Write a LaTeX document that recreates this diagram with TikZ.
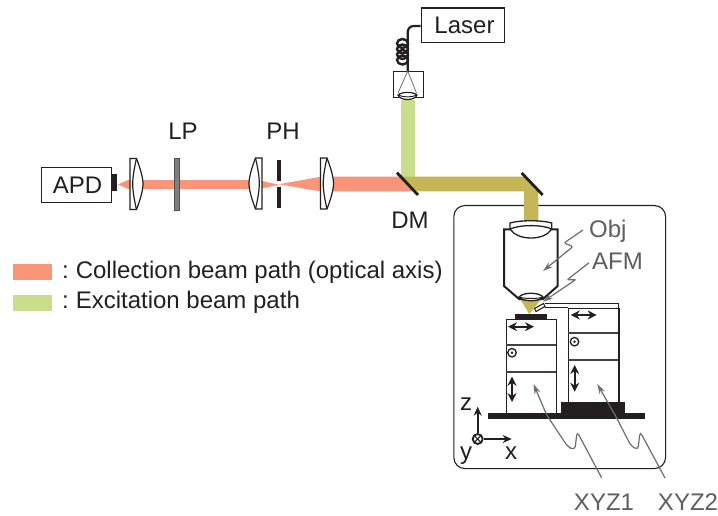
\documentclass[tikz,border=0pt]{standalone}
\usepackage{fontspec}
\setmainfont{Liberation Sans}
\usetikzlibrary{arrows.meta}
\definecolor{ink}{HTML}{231F20}
\definecolor{callout}{HTML}{6D6E71}
\definecolor{collect}{HTML}{F9967A}
\definecolor{excite}{HTML}{C9DE8A}
\definecolor{mixed}{HTML}{C5B656}
\tikzset{
  lbl/.style={font=\fontsize{24}{24}\selectfont,text=ink,inner sep=0pt,anchor=base},
  glbl/.style={font=\fontsize{24}{24}\selectfont,text=callout!85!black,inner sep=0pt,anchor=base},
  boxed/.style={draw=ink,line width=1.4pt,fill=white},
  stage/.style={draw=ink,line width=1.3pt,fill=white},
  divider/.style={draw=ink!85,line width=1.8pt},
  mirror/.style={line width=2.8pt,draw=ink},
  movearrow/.style={line width=1.8pt,draw=ink,{Stealth[length=9pt,width=9pt]}-{Stealth[length=9pt,width=9pt]}},
  call/.style={draw=callout,line width=1.2pt,-{Stealth[length=10pt,width=6pt]},rounded corners=2pt},
  axis/.style={line width=1.8pt,draw=ink,-{Stealth[length=9pt,width=8pt]}},
  lensbody/.pic={
    \draw[draw=ink,line width=1.2pt,fill=white] (0,-25.5) -- (6.5,-25.5) .. controls (10.5,-15) and (13,-6) .. (13,0) .. controls (13,6) and (10.5,15) .. (6.5,25.5) -- (0,25.5) -- cycle;
    \draw[draw=ink,line width=1.2pt] (6.5,-25.5) .. controls (4,-15) and (2.7,-6) .. (2.7,0) .. controls (2.7,6) and (4,15) .. (6.5,25.5);
  }
}
\begin{document}
\begin{tikzpicture}[x=1pt,y=-1pt]
\useasboundingbox (0,0) rectangle (718,516);
% enclosure
\node[draw=ink,line width=1.1pt,fill=white,rounded corners=11pt,minimum width=211.7pt,minimum height=263pt,inner sep=0pt,anchor=north west] (enclosure) at (453.3,205) {};
% beams
\fill[excite] (400.7,100) rectangle (415.3,180);
\fill[collect] (128,180) -- (118,184.5) -- (128,189) -- (262,189) -- (262,181) -- cycle;
\fill[collect] (128,180) rectangle (262,189);
\fill[collect] (262,181) -- (279,184.7) -- (262,188.5) -- cycle;
\fill[collect] (279,184.2) -- (321,176.7) -- (400,176.7) -- (415,191.5) -- (321,191.5) -- cycle;
\fill[mixed] (401,176.7) -- (525,176.7) -- (538.3,190.4) -- (538.3,222) -- (524,222) -- (524,191.5) -- (416,191.5) -- cycle;
% laser
\node[boxed,minimum width=83.3pt,minimum height=34.7pt,inner sep=0pt,anchor=north west] (laser) at (420.7,7.3) {};
\node[lbl] (lasertext) at (464.5,34) {Laser};
\node[draw=ink,line width=1.2pt,fill=white,minimum width=30pt,minimum height=26.3pt,inner sep=0pt,anchor=north west] (collim) at (392.7,71) {};
\draw[line width=2.2pt,draw=ink,rounded corners=6pt] (laser.west|-0,26) -- (407.7,26) -- (407.7,71);
\foreach \cy in {43.5,49,54.5,60} \draw[line width=2.4pt,draw=ink] (402.5,\cy) circle[x radius=5.5,y radius=4.5];
\draw[callout,line width=0.8pt] (407.7,71) -- (398,93) (407.7,71) -- (416.5,93);
\draw[ink,line width=1.2pt,fill=white] (398,95) .. controls (402,91.5) and (413,91.5) .. (417,95) .. controls (415,101) and (400,101) .. (398,95) -- cycle;
\draw[ink,line width=0.9pt] (398,95) .. controls (403,97.5) and (412,97.5) .. (417,95);
% APD
\node[boxed,minimum width=70.3pt,minimum height=35pt,inner sep=0pt,anchor=north west] (apd) at (40.7,166.7) {};
\node[lbl] (apdtext) at (77.5,193.5) {APD};
\fill[ink] (111,174) rectangle (117,191);
% lenses
\pic at (130,184) {lensbody};
\pic[xscale=-1] at (262,183.5) {lensbody};
\pic at (320.5,183.5) {lensbody};
% LP
\node[draw=ink!80,line width=0.7pt,fill=black!50,minimum width=4.4pt,minimum height=52pt,inner sep=0pt] (lp) at (177,184) {};
\node[lbl] (lptext) at (183,139.5) {LP};
% pinhole
\fill[ink] (277,160) rectangle (281,180.7);
\fill[ink] (277,187) rectangle (281,207.7);
\node[lbl] (phtext) at (283,139.5) {PH};
% mirrors
\draw[mirror] (397,172.7) -- (418,195);
\draw[mirror] (521.7,173) -- (542.7,195);
\node[lbl] (dmtext) at (410,228) {DM};
% objective
\fill[mixed] (519,297) -- (543,297) -- (529.3,314) -- cycle;
\draw[ink,line width=2pt,fill=white] (504,229.3) -- (557.7,229.3) -- (557.7,286) -- (543,299) -- (519,299) -- (504,286) -- cycle;
\draw[ink,line width=1.3pt,fill=white] (510,229) -- (510,223) .. controls (520,220) and (542,220) .. (551.7,223) -- (551.7,229) .. controls (548,235) and (540,238) .. (531,238) .. controls (522,238) and (514,235) .. (510,229) -- cycle;
\draw[ink,line width=1.3pt] (510,229) .. controls (520,224.5) and (542,224.5) .. (551.7,229);
\draw[ink,line width=1.3pt,fill=white] (519,297) .. controls (523,292) and (539,292) .. (543,297) .. controls (539,302) and (523,302) .. (519,297) -- cycle;
\draw[ink,line width=1pt] (519,297) .. controls (524,299) and (538,299) .. (543,297);
\fill[ink] (515,314) rectangle (546.7,319);
% stages
\node[stage,minimum width=50.3pt,minimum height=94pt,inner sep=0pt,anchor=north west] (stageA) at (505.7,319) {};
\draw[divider] (505.7,345) -- (556,345);
\draw[divider] (505.7,371.7) -- (556,371.7);
\node[stage,minimum width=50.6pt,minimum height=95pt,inner sep=0pt,anchor=north west] (stageB) at (567.7,307.5) {};
\draw[divider] (567.7,333.3) -- (618.3,333.3);
\draw[divider] (567.7,360) -- (618.3,360);
\draw[ink,line width=1.3pt] (545,303.5) -- (618.3,303.5) -- (618.3,308);
\draw[ink,line width=1.3pt] (545,307.5) -- (567.7,307.5);
% cantilever
\draw[ink,line width=1.1pt,fill=white] (534.5,308.5) -- (543.5,303.5) -- (545,306.5) -- (536,311.5) -- cycle;
% base
\fill[ink] (488,413.3) rectangle (645,419.3);
\fill[ink] (561,402.3) rectangle (625,419.3);
% stage arrows
\draw[movearrow] (508,326.7) -- (534,326.7);
\draw[movearrow] (570.7,315) -- (596.7,315);
\draw[movearrow] (512,376.7) -- (512,402);
\draw[movearrow] (574.7,365) -- (574.7,391.7);
\node[draw=ink,line width=1.3pt,circle,minimum size=8.5pt,inner sep=0pt,fill=white] (dotA) at (512,352.7) {};
\fill[ink] (dotA.center) circle[radius=1.4];
\node[draw=ink,line width=1.3pt,circle,minimum size=8.5pt,inner sep=0pt,fill=white] (dotB) at (574.5,341.7) {};
\fill[ink] (dotB.center) circle[radius=1.4];
% axes
\node[draw=ink,line width=1.8pt,circle,minimum size=10pt,inner sep=0pt,fill=white,path picture={\draw[ink,line width=1.1pt] (path picture bounding box.north west)--(path picture bounding box.south east) (path picture bounding box.north east)--(path picture bounding box.south west);}] (origin) at (477.7,439) {};
\coordinate (ztip) at (477.7,406.7);
\coordinate (xtip) at (511.7,439);
\draw[axis] (origin) -- (ztip);
\draw[axis] (origin) -- (xtip);
\node[lbl] (ztext) at (466,410) {z};
\node[lbl] (xtext) at (511,459.5) {x};
\node[lbl] (ytext) at (466,459) {y};
% callouts
\node[glbl,anchor=base west] (objtext) at (589,237.5) {Obj};
\node[glbl,anchor=base west] (afmtext) at (592,269) {AFM};
\node[glbl] (xyz1) at (604,510) {XYZ1};
\node[glbl] (xyz2) at (688,510) {XYZ2};
\coordinate (objtip) at (543,271);
\coordinate (afmtip) at (543,301.7);
\coordinate (stageAtip) at (533.5,384);
\coordinate (stageBtip) at (597.3,384);
\draw[call] (583,230) -- (564,243) -- (573,246.5) -- (objtip);
\draw[call] (589,262.7) -- (567,280) -- (576,279.5) -- (afmtip);
\draw[call,rounded corners=4pt] (601.7,478) -- (577,431.5) -- (575,450) -- (568,447) -- (546.7,415) -- (stageAtip);
\draw[call,rounded corners=4pt] (665,478) -- (640,431.5) -- (638,450) -- (631,446) -- (616.7,418) -- (stageBtip);
% legend
\fill[collect] (13,264) rectangle (52,280);
\fill[excite] (13,295) rectangle (52,311);
\node[lbl,anchor=base west] (legendA) at (62,278.5) {:\hspace{-2pt} Collection beam path (optical axis)};
\node[lbl,anchor=base west] (legendB) at (62,308.5) {:\hspace{-2pt} Excitation beam path};
\end{tikzpicture}
\end{document}
